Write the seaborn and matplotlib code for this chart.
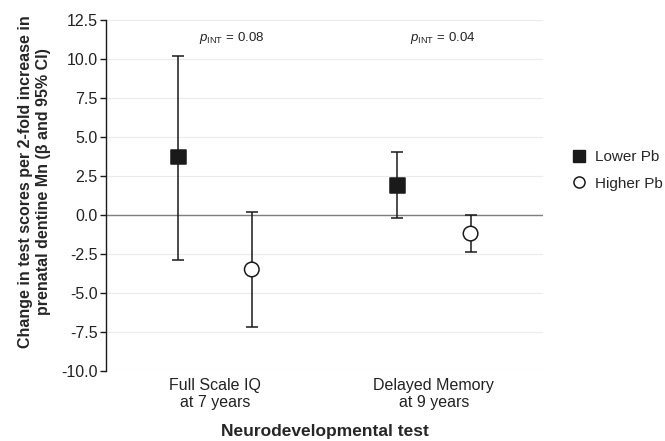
import numpy as np
import pandas as pd
import matplotlib
matplotlib.use("Agg")
import matplotlib.pyplot as plt
from matplotlib.lines import Line2D
import seaborn as sns

# data
tests = ["Full Scale IQ\nat 7 years", "Delayed Memory\nat 9 years"]
groups = ["Lower Pb", "Higher Pb"]
beta_lower = [3.7, 1.9]
ci_low_lower = [-2.9, -0.2]
ci_high_lower = [10.2, 4.0]
beta_higher = [-3.5, -1.2]
ci_low_higher = [-7.2, -2.4]
ci_high_higher = [0.2, 0.0]
p_int = ["0.08", "0.04"]

sns.set_style("white")
plt.rcParams['font.family'] = ['Liberation Sans', 'DejaVu Sans']
plt.rcParams['mathtext.fontset'] = 'custom'
plt.rcParams['mathtext.rm'] = 'Liberation Sans'
plt.rcParams['mathtext.it'] = 'Liberation Sans:italic'

rows = []
for i, t in enumerate(tests):
    rows.append({"test": t, "idx": i, "group": "Lower Pb", "beta": beta_lower[i],
                 "lo": ci_low_lower[i], "hi": ci_high_lower[i]})
    rows.append({"test": t, "idx": i, "group": "Higher Pb", "beta": beta_higher[i],
                 "lo": ci_low_higher[i], "hi": ci_high_higher[i]})
df = pd.DataFrame(rows)
offset = {"Lower Pb": -0.1675, "Higher Pb": 0.1675}
df["x"] = df["idx"] + df["group"].map(offset)

fig = plt.figure(figsize=(6.65, 4.41), dpi=100)
ax = fig.add_axes([0.159, 0.159, 0.658, 0.796])

# grid + zero line
for v in np.arange(-10, 12.6, 2.5):
    ax.axhline(v, color='#ebebeb', lw=0.8, zorder=0)
ax.axhline(0, color='#7f7f7f', lw=1.0, zorder=1)

# error bars
ax.errorbar(df["x"], df["beta"], yerr=[df["beta"] - df["lo"], df["hi"] - df["beta"]],
            fmt='none', ecolor='#1a1a1a', elinewidth=1.1, capsize=4, capthick=1.1, zorder=2)

sns.scatterplot(data=df, x="x", y="beta", hue="group", style="group",
                markers={"Lower Pb": "s", "Higher Pb": "o"},
                palette={"Lower Pb": "#1a1a1a", "Higher Pb": "white"},
                edgecolor='#1a1a1a', linewidth=1.1, s=110, zorder=3, ax=ax, legend=False)

for i, p in enumerate(p_int):
    ax.text(i + [0.076, 0.04][i], 11.35, r"$p_{\mathrm{INT}}$ = " + p, ha='center', va='center',
            fontsize=9.5, color='#222222')

ax.set_xlim(-0.5, 1.5)
ax.set_ylim(-10, 12.5)
ax.set_yticks(np.arange(-10, 12.6, 2.5))
ax.set_yticklabels([f"{v:.1f}" for v in np.arange(-10, 12.6, 2.5)], fontsize=11.5, color='#222222')
ax.set_xticks(range(len(tests)))
ax.set_xticklabels(tests, fontsize=11.5, color='#222222')
ax.tick_params(axis='y', direction='out', length=4, width=1, color='#1a1a1a', pad=2, left=True)
ax.tick_params(axis='x', length=0, pad=5)
for s in ["top", "right", "bottom"]:
    ax.spines[s].set_visible(False)
ax.spines["left"].set_color('#1a1a1a')
ax.spines["left"].set_linewidth(1.0)

ax.set_xlabel("Neurodevelopmental test", fontsize=12.5, fontweight='bold', labelpad=10)
ax.set_ylabel("Change in test scores per 2-fold increase in\nprenatal dentine Mn (β and 95% CI)",
              fontsize=11.5, fontweight='bold', linespacing=1.25)
ax.yaxis.set_label_coords(-0.125, 0.538)

# legend
handles = [Line2D([], [], marker='s', ls='none', color='#1a1a1a', markersize=8),
           Line2D([], [], marker='o', ls='none', markerfacecolor='white',
                  markeredgecolor='#1a1a1a', markersize=8, markeredgewidth=1.1)]
fig.legend(handles, groups, loc='upper left', bbox_to_anchor=(0.838, 0.69), frameon=False,
           fontsize=11, handletextpad=0.6, labelspacing=0.8, handlelength=1.0)

fig.savefig("out.png", dpi=100)
